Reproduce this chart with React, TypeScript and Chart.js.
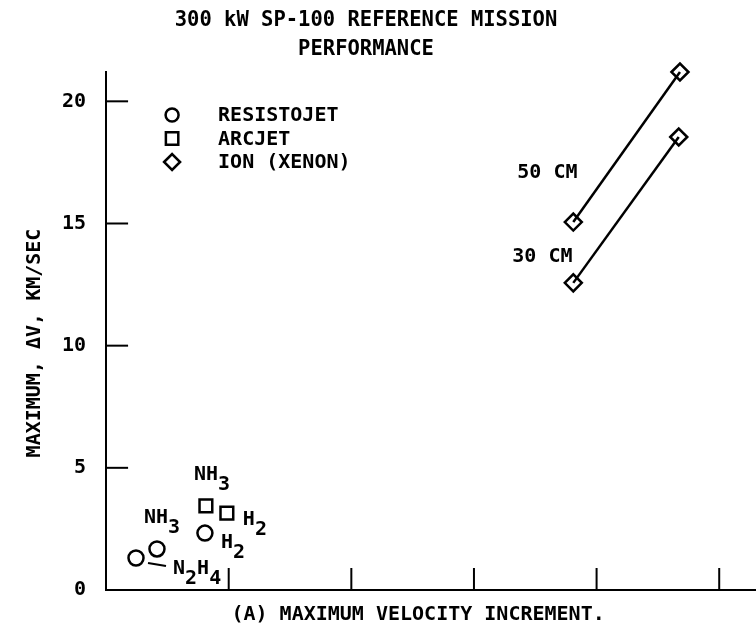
import React, { useEffect, useRef } from 'react';
import { Chart, registerables } from 'chart.js';

Chart.register(...registerables);

// ---------- data ----------
const TITLE_LINES = ['300 kW SP-100 REFERENCE MISSION', 'PERFORMANCE'];
const X_TITLE = '(A) MAXIMUM VELOCITY INCREMENT.';
const Y_TITLE = 'MAXIMUM, ΔV, KM/SEC';
const X_TICKS = [1, 2, 3, 4, 5];
const Y_TICKS = [0, 5, 10, 15, 20];

const RESISTOJET_X = [0.244, 0.415, 0.806];
const RESISTOJET_Y = [1.31, 1.68, 2.33];
const RESISTOJET_LABELS = ['N_2H_4', 'NH_3', 'H_2'];

const ARCJET_X = [0.814, 0.985];
const ARCJET_Y = [3.44, 3.15];
const ARCJET_LABELS = ['NH_3', 'H_2'];

const ION_50_X = [3.81, 4.68];
const ION_50_Y = [15.06, 21.2];
const ION_30_X = [3.81, 4.67];
const ION_30_Y = [12.57, 18.54];
const ION_LABELS = ['50 CM', '30 CM'];

const LEGEND_LABELS = ['RESISTOJET', 'ARCJET', 'ION (XENON)'];

// ---------- styles ----------
const FONT = '"DejaVu Sans Mono", monospace';
const INK = '#000';
const RESISTOJET_LABEL_OFFSETS = [[37, 16], [-13, -26], [16, 15]];
const ARCJET_LABEL_OFFSETS = [[-12, -26], [16, 12]];
const ION_LABEL_OFFSETS = [[-56, -44], [-61, -21]];

const pts = (xs: number[], ys: number[]) => xs.map((x, i) => ({ x, y: ys[i] }));

function drawRich(ctx: CanvasRenderingContext2D, text: string, x: number, y: number, size: number) {
  let cx = x;
  let i = 0;
  while (i < text.length) {
    let seg: string;
    let sub = false;
    if (text[i] === '_') {
      sub = true;
      seg = text[i + 1];
      i += 2;
    } else {
      let j = i;
      while (j < text.length && text[j] !== '_') j++;
      seg = text.slice(i, j);
      i = j;
    }
    ctx.fillText(seg, cx, sub ? y + size * 0.5 : y);
    cx += ctx.measureText(seg).width;
  }
}

const overlayPlugin = {
  id: 'overlay',
  afterDraw(chart: any) {
    const { ctx, chartArea, scales } = chart;
    const xs = scales.x;
    const ys = scales.y;
    ctx.save();
    ctx.strokeStyle = INK;
    ctx.fillStyle = INK;
    ctx.lineWidth = 2;
    // inward tick marks
    xs.ticks.forEach((t: any) => {
      const px = xs.getPixelForValue(t.value);
      ctx.beginPath();
      ctx.moveTo(px, chartArea.bottom);
      ctx.lineTo(px, chartArea.bottom - 22);
      ctx.stroke();
    });
    ys.ticks.forEach((t: any) => {
      if (t.value === 0) return;
      const py = ys.getPixelForValue(t.value);
      ctx.beginPath();
      ctx.moveTo(chartArea.left, py);
      ctx.lineTo(chartArea.left + 22, py);
      ctx.stroke();
    });

    // titles
    ctx.textBaseline = 'middle';
    ctx.textAlign = 'center';
    ctx.font = `bold 20.5px ${FONT}`;
    ctx.fillText(TITLE_LINES[0], 366, 21);
    ctx.fillText(TITLE_LINES[1], 366, 50);
    ctx.font = `bold 20px ${FONT}`;
    ctx.fillText(X_TITLE, chartArea.left + 312, chartArea.bottom + 25);
    ctx.save();
    ctx.translate(chartArea.left - 71, chartArea.top + 271);
    ctx.rotate(-Math.PI / 2);
    ctx.fillText(Y_TITLE, 0, 0);
    ctx.restore();

    // point labels
    ctx.textAlign = 'left';
    ctx.textBaseline = 'alphabetic';
    ctx.font = `bold 20px ${FONT}`;
    const label = (lx: number, ly: number, txt: string, off: number[]) => {
      const px = xs.getPixelForValue(lx);
      const py = ys.getPixelForValue(ly);
      drawRich(ctx, txt, px + off[0], py + off[1], 20);
    };
    RESISTOJET_LABELS.forEach((t, i) => label(RESISTOJET_X[i], RESISTOJET_Y[i], t, RESISTOJET_LABEL_OFFSETS[i]));
    ARCJET_LABELS.forEach((t, i) => label(ARCJET_X[i], ARCJET_Y[i], t, ARCJET_LABEL_OFFSETS[i]));
    label(ION_50_X[0], ION_50_Y[0], ION_LABELS[0], ION_LABEL_OFFSETS[0]);
    label(ION_30_X[0], ION_30_Y[0], ION_LABELS[1], ION_LABEL_OFFSETS[1]);

    // leader line N2H4
    {
      const px = xs.getPixelForValue(RESISTOJET_X[0]);
      const py = ys.getPixelForValue(RESISTOJET_Y[0]);
      ctx.beginPath();
      ctx.moveTo(px + 12, py + 5);
      ctx.lineTo(px + 30, py + 8);
      ctx.stroke();
    }

    // legend
    const lx = chartArea.left + 66;
    const ly0 = chartArea.top + 43;
    const dy = 23.5;
    ctx.lineWidth = 2.5;
    ctx.textBaseline = 'middle';
    LEGEND_LABELS.forEach((t, i) => {
      const cy = ly0 + i * dy;
      ctx.beginPath();
      if (i === 0) ctx.arc(lx, cy, 6.5, 0, Math.PI * 2);
      else if (i === 1) ctx.rect(lx - 6.2, cy - 6.2, 12.4, 12.4);
      else {
        ctx.moveTo(lx - 8, cy);
        ctx.lineTo(lx, cy - 8);
        ctx.lineTo(lx + 8, cy);
        ctx.lineTo(lx, cy + 8);
        ctx.closePath();
      }
      ctx.stroke();
      ctx.fillText(t, lx + 46, cy + 1);
    });
    ctx.restore();
  },
};

export default function App() {
  const ref = useRef<HTMLCanvasElement | null>(null);
  useEffect(() => {
    if (!ref.current) return;
    const hollow = 'rgba(0,0,0,0)';
    const chart = new Chart(ref.current, {
      type: 'scatter',
      data: {
        datasets: [
          {
            label: 'RESISTOJET',
            data: pts(RESISTOJET_X, RESISTOJET_Y),
            pointStyle: 'circle',
            pointRadius: 7.5,
            borderColor: INK,
            backgroundColor: hollow,
            borderWidth: 2.5,
            clip: false,
          },
          {
            label: 'ARCJET',
            data: pts(ARCJET_X, ARCJET_Y),
            pointStyle: 'rect',
            pointRadius: 9,
            borderColor: INK,
            backgroundColor: hollow,
            borderWidth: 2.5,
            clip: false,
          },
          {
            label: 'ION 50 CM',
            data: pts(ION_50_X, ION_50_Y),
            showLine: true,
            pointStyle: 'rectRot',
            pointRadius: 8.5,
            borderColor: INK,
            backgroundColor: hollow,
            borderWidth: 2.5,
            clip: false,
          },
          {
            label: 'ION 30 CM',
            data: pts(ION_30_X, ION_30_Y),
            showLine: true,
            pointStyle: 'rectRot',
            pointRadius: 8.5,
            borderColor: INK,
            backgroundColor: hollow,
            borderWidth: 2.5,
            clip: false,
          },
        ],
      } as any,
      options: {
        animation: false,
        responsive: false,
        devicePixelRatio: 1,
        layout: { autoPadding: false, padding: { left: 42, right: 0, top: 72, bottom: 46 } },
        plugins: {
          legend: { display: false },
          tooltip: { enabled: false },
          title: { display: false },
        },
        scales: {
          x: {
            type: 'linear',
            min: 0,
            max: 5.3,
            grid: { display: false, drawTicks: false },
            border: { display: true, color: INK, width: 2 },
            ticks: { display: false },
            afterBuildTicks: (s: any) => {
              s.ticks = X_TICKS.map((v) => ({ value: v }));
            },
          },
          y: {
            type: 'linear',
            min: 0,
            max: 21.2,
            grid: { display: false, drawTicks: false },
            border: { display: true, color: INK, width: 2 },
            ticks: {
              color: INK,
              padding: 20,
              font: { family: FONT, size: 20, weight: 'bold' },
            },
            afterBuildTicks: (s: any) => {
              s.ticks = Y_TICKS.map((v) => ({ value: v }));
            },
          },
        },
      } as any,
      plugins: [overlayPlugin],
    });
    return () => chart.destroy();
  }, []);
  return (
    <div style={{ position: 'absolute', left: 0, top: 0, width: 756, height: 636, background: '#fff' }}>
      <canvas ref={ref} width={756} height={636} style={{ display: 'block' }} />
    </div>
  );
}
